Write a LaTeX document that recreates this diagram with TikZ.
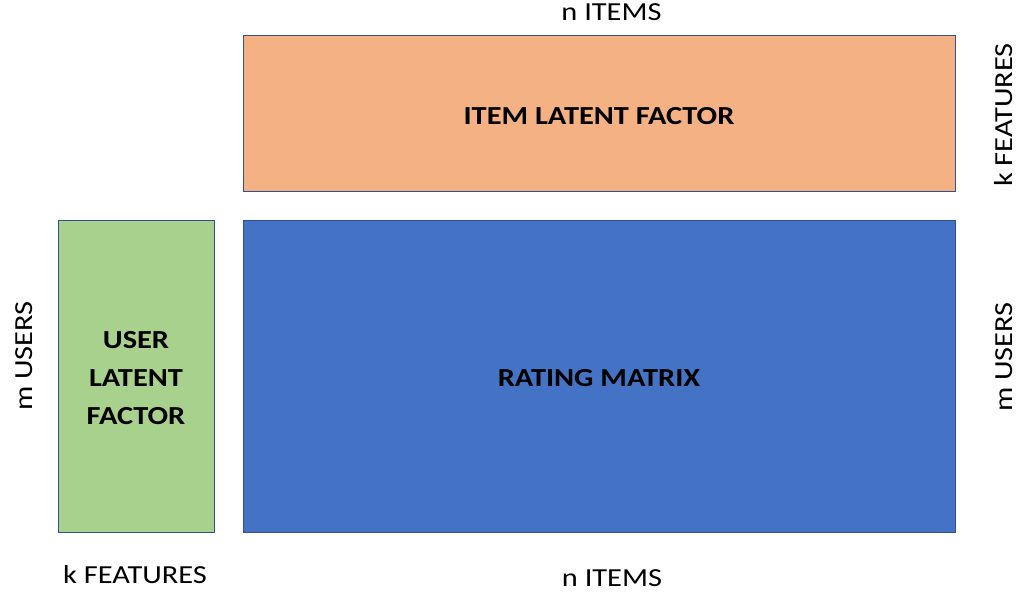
\documentclass[tikz,border=0pt]{standalone}
\usepackage{fontspec}
\setmainfont{Carlito}[FakeStretch=1.17]
\definecolor{itemfill}{HTML}{F4B183}
\definecolor{ratingfill}{HTML}{4472C4}
\definecolor{userfill}{HTML}{A9D18E}
\definecolor{boxline}{HTML}{2F528F}
\begin{document}
\begin{tikzpicture}[x=1pt,y=-1pt,
  matbox/.style={draw=boxline,line width=0.8pt,inner sep=0pt},
  boxtext/.style={font=\fontsize{26}{38.3}\selectfont\bfseries,text=black,align=center},
  dimlabel/.style={font=\fontsize{26}{31}\selectfont,text=black,inner sep=0pt}]
  \useasboundingbox (0,0) rectangle (1034,597);
  % factor matrices and rating matrix
  \draw[matbox,fill=itemfill] (243,35) rectangle (955,191);
  \draw[matbox,fill=ratingfill] (243,220) rectangle (955,532.5);
  \draw[matbox,fill=userfill] (58,220) rectangle (214,532.5);
  \node[boxtext,anchor=base] (itemtxt) at (599,124) {ITEM LATENT FACTOR};
  \node[boxtext,anchor=base] (ratingtxt) at (599,386.7) {RATING MATRIX};
  \node[boxtext,anchor=center] (usertxt) at (136,378) {USER\\LATENT\\FACTOR};
  % dimension labels
  \node[dimlabel,anchor=base] (ntop) at (611.5,20) {n ITEMS};
  \node[dimlabel,anchor=base] (nbot) at (612,586.7) {n ITEMS};
  \node[dimlabel,anchor=base] (kbot) at (135,583) {k FEATURES};
  \node[dimlabel,anchor=base,rotate=90] (kright) at (1012,115) {k FEATURES};
  \node[dimlabel,anchor=base,rotate=90] (mright) at (1012,357) {m USERS};
  \node[dimlabel,anchor=base,rotate=90] (mleft) at (32,356) {m USERS};
\end{tikzpicture}
\end{document}
